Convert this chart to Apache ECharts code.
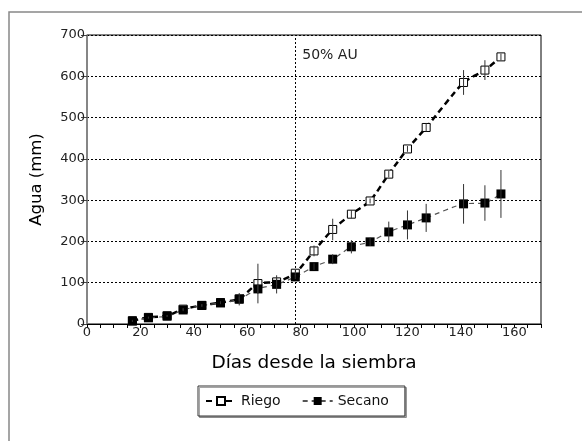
<!DOCTYPE html>
<html>
<head>
<meta charset="utf-8">
<script src="https://cdn.jsdelivr.net/npm/echarts@6/dist/echarts.min.js"></script>
<style>
  html, body { margin: 0; padding: 0; background: #fff; }
  #chart { width: 582px; height: 441px; }
</style>
</head>
<body>
<div id="chart"></div>
<script>
// days after sowing
var dias = [17, 23, 30, 36, 43, 50, 57, 64, 71, 78, 85, 92, 99, 106, 113, 120, 127, 141, 149, 155];
// accumulated water (mm)
var riego = [8, 16, 20, 36, 45, 52, 61, 98, 102, 123, 177, 229, 266, 298, 363, 424, 476, 585, 615, 647];
var secano = [7, 15, 19, 34, 45, 51, 60, 85, 96, 114, 139, 157, 187, 199, 223, 240, 257, 291, 293, 315];
// error bar half widths
var riegoErr = [2, 2, 2, 3, 3, 3, 5, 48, 8, 8, 13, 26, 10, 6, 8, 7, 10, 30, 24, 8];
var secanoErr = [2, 2, 2, 3, 3, 3, 15, 12, 22, 5, 8, 12, 16, 10, 25, 35, 34, 48, 43, 58];
var xTicks = [0, 20, 40, 60, 80, 100, 120, 140, 160];
var auDay = 78;
var auLabel = '50% AU';

var font = 'DejaVu Sans, sans-serif';

function pairs(vals) {
    return dias.map(function (d, i) { return [d, vals[i]]; });
}
function errPairs(vals, errs) {
    return dias.map(function (d, i) { return [d, vals[i], errs[i]]; });
}

function errorBar(params, api) {
    var x = api.value(0), y = api.value(1), e = api.value(2);
    var p1 = api.coord([x, y - e]);
    var p2 = api.coord([x, y + e]);
    return {
        type: 'line',
        shape: { x1: p1[0], y1: p1[1], x2: p2[0], y2: p2[1] },
        style: { stroke: '#333', lineWidth: 1 }
    };
}

var chart = echarts.init(document.getElementById('chart'));
var option = {
    animation: false,
    textStyle: { fontFamily: font },
    grid: {
        left: 87, right: 41, top: 35, bottom: 117,
        show: true, borderColor: '#000', borderWidth: 1
    },
    xAxis: {
        type: 'value',
        min: 0, max: 170, interval: 5,
        name: 'Días desde la siembra',
        nameLocation: 'middle',
        nameGap: 30,
        nameTextStyle: { fontSize: 18.5, color: '#000', fontFamily: font },
        axisLine: { lineStyle: { color: '#000', width: 1 } },
        axisTick: { length: 4, lineStyle: { color: '#000' } },
        axisLabel: {
            margin: 2, fontSize: 13, color: '#222', fontFamily: font,
            formatter: function (v) { return xTicks.indexOf(v) >= 0 ? String(v) : ''; }
        },
        splitLine: { show: false }
    },
    yAxis: {
        type: 'value',
        min: 0, max: 700, interval: 100,
        name: 'Agua (mm)',
        nameLocation: 'middle',
        nameGap: 42,
        nameTextStyle: { fontSize: 16.5, color: '#000', fontFamily: font },
        axisLine: { show: true, lineStyle: { color: '#888', width: 1.5 } },
        axisTick: { show: true, length: 6, lineStyle: { color: '#444' } },
        axisLabel: { margin: 2, fontSize: 13, color: '#222', fontFamily: font },
        splitLine: { show: true, lineStyle: { color: '#000', type: [2, 2], width: 1 } }
    },
    legend: {
        left: 198, top: 386,
        padding: [8, 16, 8, 7],
        itemGap: 21, itemWidth: 30, itemHeight: 10,
        borderColor: '#333', borderWidth: 1,
        backgroundColor: '#fff',
        shadowColor: 'rgba(0,0,0,0.35)', shadowOffsetX: 1.5, shadowOffsetY: 1.5,
        textStyle: { fontSize: 14, color: '#111', fontFamily: font },
        data: ['Riego', 'Secano']
    },
    series: [
        {
            name: 'Riego', type: 'line', smooth: 0.2, z: 3,
            data: pairs(riego),
            symbol: 'rect', symbolSize: 8,
            itemStyle: { color: '#fff', borderColor: '#000', borderWidth: 1 },
            lineStyle: { color: '#000', width: 2.5, type: [6, 4] },
            markLine: {
                silent: true, symbol: 'none',
                label: { show: false },
                lineStyle: { color: '#000', type: [2, 2], width: 1 },
                data: [{ xAxis: auDay }]
            }
        },
        {
            name: 'Secano', type: 'line', smooth: 0.2, z: 4,
            data: pairs(secano),
            symbol: 'rect', symbolSize: 9,
            itemStyle: { color: '#000', borderColor: '#000', borderWidth: 0 },
            lineStyle: { color: '#555', width: 1.2, type: [5, 4] }
        },
        {
            name: 'errRiego', type: 'custom', z: 5,
            renderItem: errorBar, data: errPairs(riego, riegoErr)
        },
        {
            name: 'errSecano', type: 'custom', z: 5,
            renderItem: errorBar, data: errPairs(secano, secanoErr)
        }
    ]
};
chart.setOption(option);

// outer frame and the 50% AU note
var auPos = chart.convertToPixel({ gridIndex: 0 }, [auDay, 650]);
chart.setOption({
    graphic: [
        {
            type: 'rect', silent: true, z: -1,
            shape: { x: 9, y: 12, width: 620, height: 500 },
            style: { fill: 'none', stroke: '#888', lineWidth: 1.5 }
        },
        {
            type: 'text', x: auPos[0] + 7, y: auPos[1],
            style: { text: auLabel, fontSize: 14, fill: '#222', fontFamily: font, verticalAlign: 'middle' }
        }
    ]
});
</script>
</body>
</html>
